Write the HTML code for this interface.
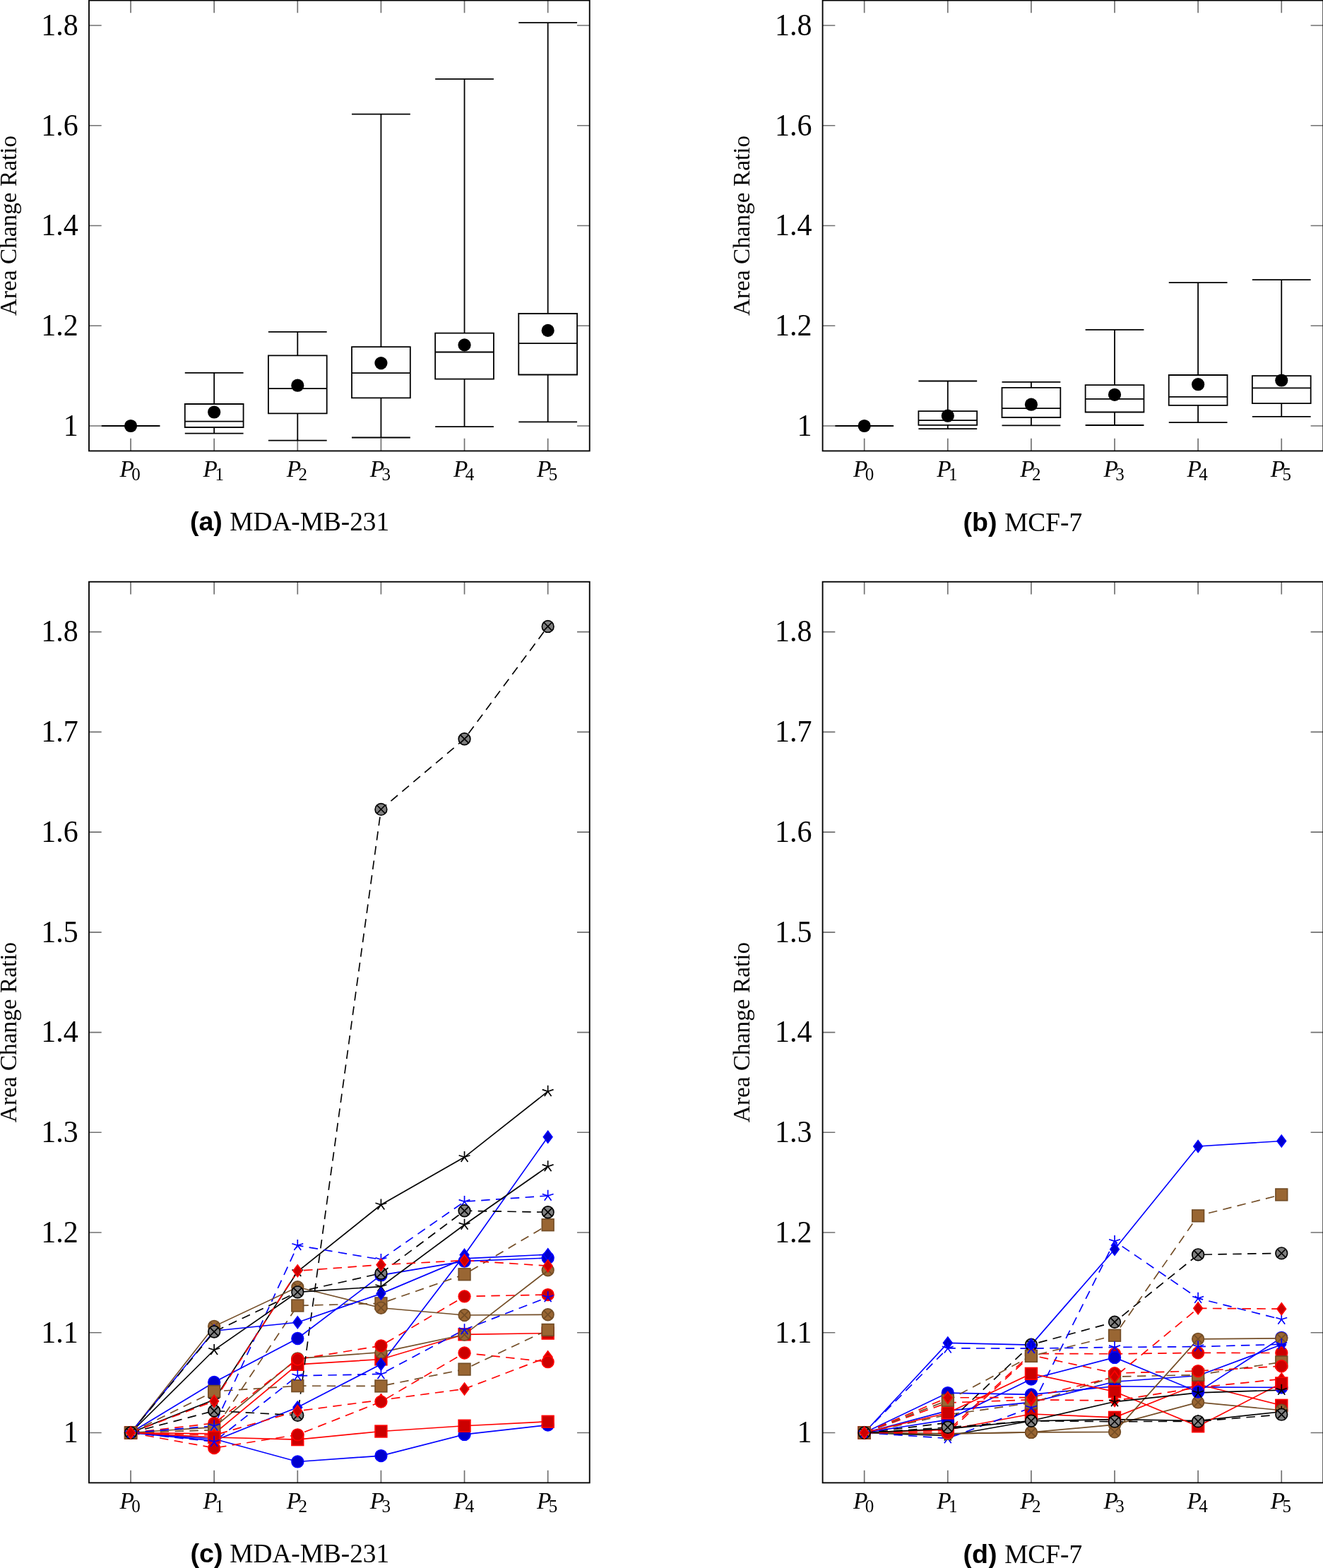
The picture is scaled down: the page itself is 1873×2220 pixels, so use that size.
<!DOCTYPE html>
<html><head><meta charset="utf-8"><title>Area Change Ratio</title>
<style>html,body{margin:0;padding:0;background:#fff;}svg{display:block;}</style>
</head><body>
<svg xmlns="http://www.w3.org/2000/svg" width="1873" height="2220" viewBox="0 0 1873 2220">
<rect width="1873" height="2220" fill="#fff"/>
<path d="M185.06 638.44V620.74M185.06 0.56V18.26M303.18 638.44V620.74M303.18 0.56V18.26M421.3 638.44V620.74M421.3 0.56V18.26M539.42 638.44V620.74M539.42 0.56V18.26M657.54 638.44V620.74M657.54 0.56V18.26M775.66 638.44V620.74M775.66 0.56V18.26M126 603H143.7M834.72 603H817.02M126 461.25H143.7M834.72 461.25H817.02M126 319.5H143.7M834.72 319.5H817.02M126 177.75H143.7M834.72 177.75H817.02M126 36H143.7M834.72 36H817.02" stroke="#707070" stroke-width="1.67" fill="none"/>
<clipPath id="cp00"><rect x="126" y="0.56" width="708.72" height="637.88"/></clipPath>
<g clip-path="url(#cp00)">
<path d="M143.66 603H226.46M261.78 527.8H344.58M303.18 527.8V572M261.78 572H344.58V605H261.78ZM261.78 596.7H344.58M303.18 605V613.7M261.78 613.7H344.58M379.9 469.9H462.7M421.3 469.9V503.3M379.9 503.3H462.7V585.3H379.9ZM379.9 550.2H462.7M421.3 585.3V623.7M379.9 623.7H462.7M498.02 161.7H580.82M539.42 161.7V491.2M498.02 491.2H580.82V563.3H498.02ZM498.02 528.2H580.82M539.42 563.3V619.5M498.02 619.5H580.82M616.14 111.9H698.94M657.54 111.9V471.7M616.14 471.7H698.94V536.6H616.14ZM616.14 498.5H698.94M657.54 536.6V604.2M616.14 604.2H698.94M734.26 32.2H817.06M775.66 32.2V444M734.26 444H817.06V530.5H734.26ZM734.26 486.1H817.06M775.66 530.5V597.3M734.26 597.3H817.06" stroke="#000" stroke-width="1.8" fill="none" stroke-linejoin="miter"/>
<circle cx="185.06" cy="603" r="9.1" fill="#000"/>
<circle cx="303.18" cy="583.5" r="9.1" fill="#000"/>
<circle cx="421.3" cy="545.7" r="9.1" fill="#000"/>
<circle cx="539.42" cy="514.1" r="9.1" fill="#000"/>
<circle cx="657.54" cy="488.4" r="9.1" fill="#000"/>
<circle cx="775.66" cy="467.9" r="9.1" fill="#000"/>
</g>
<rect x="126" y="0.56" width="708.72" height="637.88" fill="none" stroke="#000" stroke-width="1.85"/>
<text transform="translate(110.8 616.9) scale(1 1.04)" text-anchor="end" font-family="'Liberation Serif', 'Times New Roman', serif" font-size="42">1</text>
<text transform="translate(110.8 475.15) scale(1 1.04)" text-anchor="end" font-family="'Liberation Serif', 'Times New Roman', serif" font-size="42">1.2</text>
<text transform="translate(110.8 333.4) scale(1 1.04)" text-anchor="end" font-family="'Liberation Serif', 'Times New Roman', serif" font-size="42">1.4</text>
<text transform="translate(110.8 191.65) scale(1 1.04)" text-anchor="end" font-family="'Liberation Serif', 'Times New Roman', serif" font-size="42">1.6</text>
<text transform="translate(110.8 49.9) scale(1 1.04)" text-anchor="end" font-family="'Liberation Serif', 'Times New Roman', serif" font-size="42">1.8</text>
<text x="169.46" y="674.84" font-family="'Liberation Serif', 'Times New Roman', serif" font-size="33.4" font-style="italic">P</text>
<text x="186.26" y="679.94" font-family="'Liberation Serif', 'Times New Roman', serif" font-size="25">0</text>
<text x="287.58" y="674.84" font-family="'Liberation Serif', 'Times New Roman', serif" font-size="33.4" font-style="italic">P</text>
<text x="304.38" y="679.94" font-family="'Liberation Serif', 'Times New Roman', serif" font-size="25">1</text>
<text x="405.7" y="674.84" font-family="'Liberation Serif', 'Times New Roman', serif" font-size="33.4" font-style="italic">P</text>
<text x="422.5" y="679.94" font-family="'Liberation Serif', 'Times New Roman', serif" font-size="25">2</text>
<text x="523.82" y="674.84" font-family="'Liberation Serif', 'Times New Roman', serif" font-size="33.4" font-style="italic">P</text>
<text x="540.62" y="679.94" font-family="'Liberation Serif', 'Times New Roman', serif" font-size="25">3</text>
<text x="641.94" y="674.84" font-family="'Liberation Serif', 'Times New Roman', serif" font-size="33.4" font-style="italic">P</text>
<text x="658.74" y="679.94" font-family="'Liberation Serif', 'Times New Roman', serif" font-size="25">4</text>
<text x="760.06" y="674.84" font-family="'Liberation Serif', 'Times New Roman', serif" font-size="33.4" font-style="italic">P</text>
<text x="776.86" y="679.94" font-family="'Liberation Serif', 'Times New Roman', serif" font-size="25">5</text>
<text transform="translate(22.7 319.5) rotate(-90)" text-anchor="middle" font-family="'Liberation Serif', 'Times New Roman', serif" font-size="33.3">Area Change Ratio</text>
<path d="M1223.66 638.44V620.74M1223.66 0.56V18.26M1341.78 638.44V620.74M1341.78 0.56V18.26M1459.9 638.44V620.74M1459.9 0.56V18.26M1578.02 638.44V620.74M1578.02 0.56V18.26M1696.14 638.44V620.74M1696.14 0.56V18.26M1814.26 638.44V620.74M1814.26 0.56V18.26M1164.6 603H1182.3M1873.32 603H1855.62M1164.6 461.25H1182.3M1873.32 461.25H1855.62M1164.6 319.5H1182.3M1873.32 319.5H1855.62M1164.6 177.75H1182.3M1873.32 177.75H1855.62M1164.6 36H1182.3M1873.32 36H1855.62" stroke="#707070" stroke-width="1.67" fill="none"/>
<clipPath id="cp10"><rect x="1164.6" y="0.56" width="708.72" height="637.88"/></clipPath>
<g clip-path="url(#cp10)">
<path d="M1182.26 603H1265.06M1300.38 539.5H1383.18M1341.78 539.5V582.2M1300.38 582.2H1383.18V601.9H1300.38ZM1300.38 595.1H1383.18M1341.78 601.9V607.1M1300.38 607.1H1383.18M1418.5 540.8H1501.3M1459.9 540.8V548.8M1418.5 548.8H1501.3V591H1418.5ZM1418.5 578.1H1501.3M1459.9 591V602.3M1418.5 602.3H1501.3M1536.62 466.8H1619.42M1578.02 466.8V545.2M1536.62 545.2H1619.42V583.5H1536.62ZM1536.62 564.8H1619.42M1578.02 583.5V602M1536.62 602H1619.42M1654.74 400.1H1737.54M1696.14 400.1V531M1654.74 531H1737.54V573.9H1654.74ZM1654.74 561.9H1737.54M1696.14 573.9V598.1M1654.74 598.1H1737.54M1772.86 396.2H1855.66M1814.26 396.2V532.1M1772.86 532.1H1855.66V571.2H1772.86ZM1772.86 549.4H1855.66M1814.26 571.2V589.9M1772.86 589.9H1855.66" stroke="#000" stroke-width="1.8" fill="none" stroke-linejoin="miter"/>
<circle cx="1223.66" cy="603" r="9.1" fill="#000"/>
<circle cx="1341.78" cy="588.7" r="9.1" fill="#000"/>
<circle cx="1459.9" cy="572.7" r="9.1" fill="#000"/>
<circle cx="1578.02" cy="558.8" r="9.1" fill="#000"/>
<circle cx="1696.14" cy="544.2" r="9.1" fill="#000"/>
<circle cx="1814.26" cy="538.5" r="9.1" fill="#000"/>
</g>
<rect x="1164.6" y="0.56" width="708.72" height="637.88" fill="none" stroke="#000" stroke-width="1.85"/>
<text transform="translate(1149.4 616.9) scale(1 1.04)" text-anchor="end" font-family="'Liberation Serif', 'Times New Roman', serif" font-size="42">1</text>
<text transform="translate(1149.4 475.15) scale(1 1.04)" text-anchor="end" font-family="'Liberation Serif', 'Times New Roman', serif" font-size="42">1.2</text>
<text transform="translate(1149.4 333.4) scale(1 1.04)" text-anchor="end" font-family="'Liberation Serif', 'Times New Roman', serif" font-size="42">1.4</text>
<text transform="translate(1149.4 191.65) scale(1 1.04)" text-anchor="end" font-family="'Liberation Serif', 'Times New Roman', serif" font-size="42">1.6</text>
<text transform="translate(1149.4 49.9) scale(1 1.04)" text-anchor="end" font-family="'Liberation Serif', 'Times New Roman', serif" font-size="42">1.8</text>
<text x="1208.06" y="674.84" font-family="'Liberation Serif', 'Times New Roman', serif" font-size="33.4" font-style="italic">P</text>
<text x="1224.86" y="679.94" font-family="'Liberation Serif', 'Times New Roman', serif" font-size="25">0</text>
<text x="1326.18" y="674.84" font-family="'Liberation Serif', 'Times New Roman', serif" font-size="33.4" font-style="italic">P</text>
<text x="1342.98" y="679.94" font-family="'Liberation Serif', 'Times New Roman', serif" font-size="25">1</text>
<text x="1444.3" y="674.84" font-family="'Liberation Serif', 'Times New Roman', serif" font-size="33.4" font-style="italic">P</text>
<text x="1461.1" y="679.94" font-family="'Liberation Serif', 'Times New Roman', serif" font-size="25">2</text>
<text x="1562.42" y="674.84" font-family="'Liberation Serif', 'Times New Roman', serif" font-size="33.4" font-style="italic">P</text>
<text x="1579.22" y="679.94" font-family="'Liberation Serif', 'Times New Roman', serif" font-size="25">3</text>
<text x="1680.54" y="674.84" font-family="'Liberation Serif', 'Times New Roman', serif" font-size="33.4" font-style="italic">P</text>
<text x="1697.34" y="679.94" font-family="'Liberation Serif', 'Times New Roman', serif" font-size="25">4</text>
<text x="1798.66" y="674.84" font-family="'Liberation Serif', 'Times New Roman', serif" font-size="33.4" font-style="italic">P</text>
<text x="1815.46" y="679.94" font-family="'Liberation Serif', 'Times New Roman', serif" font-size="25">5</text>
<text transform="translate(1061.3 319.5) rotate(-90)" text-anchor="middle" font-family="'Liberation Serif', 'Times New Roman', serif" font-size="33.3">Area Change Ratio</text>
<path d="M185.06 2099.37V2081.67M185.06 823.71V841.41M303.18 2099.37V2081.67M303.18 823.71V841.41M421.3 2099.37V2081.67M421.3 823.71V841.41M539.42 2099.37V2081.67M539.42 823.71V841.41M657.54 2099.37V2081.67M657.54 823.71V841.41M775.66 2099.37V2081.67M775.66 823.71V841.41M126 2028.5H143.7M834.72 2028.5H817.02M126 1886.76H143.7M834.72 1886.76H817.02M126 1745.02H143.7M834.72 1745.02H817.02M126 1603.28H143.7M834.72 1603.28H817.02M126 1461.54H143.7M834.72 1461.54H817.02M126 1319.8H143.7M834.72 1319.8H817.02M126 1178.06H143.7M834.72 1178.06H817.02M126 1036.32H143.7M834.72 1036.32H817.02M126 894.58H143.7M834.72 894.58H817.02" stroke="#707070" stroke-width="1.67" fill="none"/>
<clipPath id="cp01"><rect x="114" y="823.71" width="732.72" height="1275.66"/></clipPath>
<g clip-path="url(#cp01)">
<path d="M185.06 2028.5L303.18 2037.29L421.3 2069.46L539.42 2061.1L657.54 2030.91L775.66 2017.59" fill="none" stroke="#0000ff" stroke-width="1.67"/>
<path d="M185.06 2028.5L303.18 2029.92L421.3 1931.83L539.42 1924.46L657.54 1889.31L775.66 1887.61" fill="none" stroke="#ff0000" stroke-width="1.67"/>
<path d="M185.06 2028.5L303.18 2020.56L421.3 1923.33L539.42 1914.68L657.54 1889.59L775.66 1798.31" fill="none" stroke="#734d26" stroke-width="1.67"/>
<path d="M185.06 2028.5L303.18 1981.73L421.3 1800.3L539.42 1705.76L657.54 1638.29L775.66 1545.17" fill="none" stroke="#000000" stroke-width="1.67"/>
<path d="M185.06 2028.5L303.18 2039.84L421.3 1992.5L539.42 1931.55L657.54 1776.77L775.66 1609.66" fill="none" stroke="#0000ff" stroke-width="1.67"/>
<path d="M185.06 2028.5L303.18 2015.03L421.3 1924.46L539.42 1905.33L657.54 1835.45L775.66 1833.04" fill="none" stroke="#ff0000" stroke-width="1.67" stroke-dasharray="12.5 8.33"/>
<path d="M185.06 2028.5L303.18 2024.67L421.3 1848.49L539.42 1845.37L657.54 1804.27L775.66 1734.25" fill="none" stroke="#734d26" stroke-width="1.67" stroke-dasharray="12.5 8.33"/>
<path d="M185.06 2028.5L303.18 1997.46L421.3 2003.84L539.42 1145.89L657.54 1046.24L775.66 886.93" fill="none" stroke="#000000" stroke-width="1.67" stroke-dasharray="12.5 8.33"/>
<path d="M185.06 2028.5L303.18 2018.86L421.3 1763.3L539.42 1783.29L657.54 1701.22L775.66 1693" fill="none" stroke="#0000ff" stroke-width="1.67" stroke-dasharray="12.5 8.33"/>
<path d="M185.06 2028.5L303.18 2032.04L421.3 1997.74L539.42 1982.15L657.54 1966.42L775.66 1921.34" fill="none" stroke="#ff0000" stroke-width="1.67" stroke-dasharray="12.5 8.33"/>
<path d="M185.06 2028.5L303.18 1956.92L421.3 1894.98L539.42 1805.4L657.54 1785.7L775.66 1781.02" fill="none" stroke="#0000ff" stroke-width="1.67"/>
<path d="M185.06 2028.5L303.18 2035.02L421.3 2038.14L539.42 2026.52L657.54 2018.72L775.66 2012.77" fill="none" stroke="#ff0000" stroke-width="1.67"/>
<path d="M185.06 2028.5L303.18 1877.83L421.3 1822.27L539.42 1851.75L657.54 1861.96L775.66 1861.25" fill="none" stroke="#734d26" stroke-width="1.67"/>
<path d="M185.06 2028.5L303.18 1911.28L421.3 1829.36L539.42 1821.56L657.54 1733.96L775.66 1651.47" fill="none" stroke="#000000" stroke-width="1.67"/>
<path d="M185.06 2028.5L303.18 1884.21L421.3 1872.3L539.42 1831.62L657.54 1781.87L775.66 1776.2" fill="none" stroke="#0000ff" stroke-width="1.67"/>
<path d="M185.06 2028.5L303.18 2050.04L421.3 2031.33L539.42 1984.56L657.54 1915.53L775.66 1928.15" fill="none" stroke="#ff0000" stroke-width="1.67" stroke-dasharray="12.5 8.33"/>
<path d="M185.06 2028.5L303.18 1969.96L421.3 1962.17L539.42 1962.45L657.54 1938.64L775.66 1882.93" fill="none" stroke="#734d26" stroke-width="1.67" stroke-dasharray="12.5 8.33"/>
<path d="M185.06 2028.5L303.18 1885.48L421.3 1829.36L539.42 1802.71L657.54 1714.26L775.66 1716.25" fill="none" stroke="#000000" stroke-width="1.67" stroke-dasharray="12.5 8.33"/>
<path d="M185.06 2028.5L303.18 2041.26L421.3 1947.85L539.42 1945.44L657.54 1882.51L775.66 1836.58" fill="none" stroke="#0000ff" stroke-width="1.67" stroke-dasharray="12.5 8.33"/>
<path d="M185.06 2028.5L303.18 1983.71L421.3 1799.31L539.42 1790.66L657.54 1784.57L775.66 1792.22" fill="none" stroke="#ff0000" stroke-width="1.67" stroke-dasharray="12.5 8.33"/>
<circle cx="185.06" cy="2028.5" r="8.33" fill="#0000cc" stroke="#0000ff" stroke-width="1.67"/>
<circle cx="303.18" cy="2037.29" r="8.33" fill="#0000cc" stroke="#0000ff" stroke-width="1.67"/>
<circle cx="421.3" cy="2069.46" r="8.33" fill="#0000cc" stroke="#0000ff" stroke-width="1.67"/>
<circle cx="539.42" cy="2061.1" r="8.33" fill="#0000cc" stroke="#0000ff" stroke-width="1.67"/>
<circle cx="657.54" cy="2030.91" r="8.33" fill="#0000cc" stroke="#0000ff" stroke-width="1.67"/>
<circle cx="775.66" cy="2017.59" r="8.33" fill="#0000cc" stroke="#0000ff" stroke-width="1.67"/>
<rect x="176.73" y="2020.17" width="16.67" height="16.67" fill="#cc0000" stroke="#ff0000" stroke-width="1.67"/>
<rect x="294.85" y="2021.58" width="16.67" height="16.67" fill="#cc0000" stroke="#ff0000" stroke-width="1.67"/>
<rect x="412.97" y="1923.5" width="16.67" height="16.67" fill="#cc0000" stroke="#ff0000" stroke-width="1.67"/>
<rect x="531.09" y="1916.13" width="16.67" height="16.67" fill="#cc0000" stroke="#ff0000" stroke-width="1.67"/>
<rect x="649.21" y="1880.98" width="16.67" height="16.67" fill="#cc0000" stroke="#ff0000" stroke-width="1.67"/>
<rect x="767.33" y="1879.28" width="16.67" height="16.67" fill="#cc0000" stroke="#ff0000" stroke-width="1.67"/>
<circle cx="185.06" cy="2028.5" r="8.33" fill="#996633" stroke="#734d26" stroke-width="1.67"/><path d="M179.17 2022.61L190.95 2034.39M179.17 2034.39L190.95 2022.61" stroke="#734d26" stroke-width="1.67"/>
<circle cx="303.18" cy="2020.56" r="8.33" fill="#996633" stroke="#734d26" stroke-width="1.67"/><path d="M297.29 2014.67L309.07 2026.45M297.29 2026.45L309.07 2014.67" stroke="#734d26" stroke-width="1.67"/>
<circle cx="421.3" cy="1923.33" r="8.33" fill="#996633" stroke="#734d26" stroke-width="1.67"/><path d="M415.41 1917.44L427.19 1929.22M415.41 1929.22L427.19 1917.44" stroke="#734d26" stroke-width="1.67"/>
<circle cx="539.42" cy="1914.68" r="8.33" fill="#996633" stroke="#734d26" stroke-width="1.67"/><path d="M533.53 1908.79L545.31 1920.58M533.53 1920.58L545.31 1908.79" stroke="#734d26" stroke-width="1.67"/>
<circle cx="657.54" cy="1889.59" r="8.33" fill="#996633" stroke="#734d26" stroke-width="1.67"/><path d="M651.65 1883.7L663.43 1895.49M651.65 1895.49L663.43 1883.7" stroke="#734d26" stroke-width="1.67"/>
<circle cx="775.66" cy="1798.31" r="8.33" fill="#996633" stroke="#734d26" stroke-width="1.67"/><path d="M769.77 1792.42L781.55 1804.21M769.77 1804.21L781.55 1792.42" stroke="#734d26" stroke-width="1.67"/>
<path d="M185.06 2028.5L185.06 2020.17M185.06 2028.5L177.13 2025.92M185.06 2028.5L180.16 2035.24M185.06 2028.5L189.96 2035.24M185.06 2028.5L192.99 2025.92" stroke="#000000" stroke-width="1.67" fill="none"/>
<path d="M303.18 1981.73L303.18 1973.39M303.18 1981.73L295.25 1979.15M303.18 1981.73L298.28 1988.47M303.18 1981.73L308.08 1988.47M303.18 1981.73L311.11 1979.15" stroke="#000000" stroke-width="1.67" fill="none"/>
<path d="M421.3 1800.3L421.3 1791.97M421.3 1800.3L413.37 1797.72M421.3 1800.3L416.4 1807.04M421.3 1800.3L426.2 1807.04M421.3 1800.3L429.23 1797.72" stroke="#000000" stroke-width="1.67" fill="none"/>
<path d="M539.42 1705.76L539.42 1697.43M539.42 1705.76L531.49 1703.18M539.42 1705.76L534.52 1712.5M539.42 1705.76L544.32 1712.5M539.42 1705.76L547.35 1703.18" stroke="#000000" stroke-width="1.67" fill="none"/>
<path d="M657.54 1638.29L657.54 1629.96M657.54 1638.29L649.61 1635.71M657.54 1638.29L652.64 1645.03M657.54 1638.29L662.44 1645.03M657.54 1638.29L665.47 1635.71" stroke="#000000" stroke-width="1.67" fill="none"/>
<path d="M775.66 1545.17L775.66 1536.83M775.66 1545.17L767.73 1542.59M775.66 1545.17L770.76 1551.91M775.66 1545.17L780.56 1551.91M775.66 1545.17L783.59 1542.59" stroke="#000000" stroke-width="1.67" fill="none"/>
<path d="M185.06 2020.17L191.31 2028.5L185.06 2036.83L178.81 2028.5Z" fill="#0000cc" stroke="#0000ff" stroke-width="1.67"/>
<path d="M303.18 2031.51L309.43 2039.84L303.18 2048.17L296.93 2039.84Z" fill="#0000cc" stroke="#0000ff" stroke-width="1.67"/>
<path d="M421.3 1984.17L427.55 1992.5L421.3 2000.83L415.05 1992.5Z" fill="#0000cc" stroke="#0000ff" stroke-width="1.67"/>
<path d="M539.42 1923.22L545.67 1931.55L539.42 1939.88L533.17 1931.55Z" fill="#0000cc" stroke="#0000ff" stroke-width="1.67"/>
<path d="M657.54 1768.44L663.79 1776.77L657.54 1785.1L651.29 1776.77Z" fill="#0000cc" stroke="#0000ff" stroke-width="1.67"/>
<path d="M775.66 1601.33L781.91 1609.66L775.66 1617.99L769.41 1609.66Z" fill="#0000cc" stroke="#0000ff" stroke-width="1.67"/>
<circle cx="185.06" cy="2028.5" r="8.33" fill="#cc0000" stroke="#ff0000" stroke-width="1.67"/>
<circle cx="303.18" cy="2015.03" r="8.33" fill="#cc0000" stroke="#ff0000" stroke-width="1.67"/>
<circle cx="421.3" cy="1924.46" r="8.33" fill="#cc0000" stroke="#ff0000" stroke-width="1.67"/>
<circle cx="539.42" cy="1905.33" r="8.33" fill="#cc0000" stroke="#ff0000" stroke-width="1.67"/>
<circle cx="657.54" cy="1835.45" r="8.33" fill="#cc0000" stroke="#ff0000" stroke-width="1.67"/>
<circle cx="775.66" cy="1833.04" r="8.33" fill="#cc0000" stroke="#ff0000" stroke-width="1.67"/>
<rect x="176.73" y="2020.17" width="16.67" height="16.67" fill="#996633" stroke="#734d26" stroke-width="1.67"/>
<rect x="294.85" y="2016.34" width="16.67" height="16.67" fill="#996633" stroke="#734d26" stroke-width="1.67"/>
<rect x="412.97" y="1840.16" width="16.67" height="16.67" fill="#996633" stroke="#734d26" stroke-width="1.67"/>
<rect x="531.09" y="1837.04" width="16.67" height="16.67" fill="#996633" stroke="#734d26" stroke-width="1.67"/>
<rect x="649.21" y="1795.93" width="16.67" height="16.67" fill="#996633" stroke="#734d26" stroke-width="1.67"/>
<rect x="767.33" y="1725.91" width="16.67" height="16.67" fill="#996633" stroke="#734d26" stroke-width="1.67"/>
<circle cx="185.06" cy="2028.5" r="8.33" fill="#808080" stroke="#000000" stroke-width="1.67"/><path d="M179.17 2022.61L190.95 2034.39M179.17 2034.39L190.95 2022.61" stroke="#000000" stroke-width="1.67"/>
<circle cx="303.18" cy="1997.46" r="8.33" fill="#808080" stroke="#000000" stroke-width="1.67"/><path d="M297.29 1991.57L309.07 2003.35M297.29 2003.35L309.07 1991.57" stroke="#000000" stroke-width="1.67"/>
<circle cx="421.3" cy="2003.84" r="8.33" fill="#808080" stroke="#000000" stroke-width="1.67"/><path d="M415.41 1997.94L427.19 2009.73M415.41 2009.73L427.19 1997.94" stroke="#000000" stroke-width="1.67"/>
<circle cx="539.42" cy="1145.89" r="8.33" fill="#808080" stroke="#000000" stroke-width="1.67"/><path d="M533.53 1139.99L545.31 1151.78M533.53 1151.78L545.31 1139.99" stroke="#000000" stroke-width="1.67"/>
<circle cx="657.54" cy="1046.24" r="8.33" fill="#808080" stroke="#000000" stroke-width="1.67"/><path d="M651.65 1040.35L663.43 1052.13M651.65 1052.13L663.43 1040.35" stroke="#000000" stroke-width="1.67"/>
<circle cx="775.66" cy="886.93" r="8.33" fill="#808080" stroke="#000000" stroke-width="1.67"/><path d="M769.77 881.03L781.55 892.82M769.77 892.82L781.55 881.03" stroke="#000000" stroke-width="1.67"/>
<path d="M185.06 2028.5L185.06 2020.17M185.06 2028.5L177.13 2025.92M185.06 2028.5L180.16 2035.24M185.06 2028.5L189.96 2035.24M185.06 2028.5L192.99 2025.92" stroke="#0000ff" stroke-width="1.67" fill="none"/>
<path d="M303.18 2018.86L303.18 2010.53M303.18 2018.86L295.25 2016.29M303.18 2018.86L298.28 2025.6M303.18 2018.86L308.08 2025.6M303.18 2018.86L311.11 2016.29" stroke="#0000ff" stroke-width="1.67" fill="none"/>
<path d="M421.3 1763.3L421.3 1754.97M421.3 1763.3L413.37 1760.73M421.3 1763.3L416.4 1770.05M421.3 1763.3L426.2 1770.05M421.3 1763.3L429.23 1760.73" stroke="#0000ff" stroke-width="1.67" fill="none"/>
<path d="M539.42 1783.29L539.42 1774.96M539.42 1783.29L531.49 1780.71M539.42 1783.29L534.52 1790.03M539.42 1783.29L544.32 1790.03M539.42 1783.29L547.35 1780.71" stroke="#0000ff" stroke-width="1.67" fill="none"/>
<path d="M657.54 1701.22L657.54 1692.89M657.54 1701.22L649.61 1698.65M657.54 1701.22L652.64 1707.96M657.54 1701.22L662.44 1707.96M657.54 1701.22L665.47 1698.65" stroke="#0000ff" stroke-width="1.67" fill="none"/>
<path d="M775.66 1693L775.66 1684.67M775.66 1693L767.73 1690.43M775.66 1693L770.76 1699.74M775.66 1693L780.56 1699.74M775.66 1693L783.59 1690.43" stroke="#0000ff" stroke-width="1.67" fill="none"/>
<path d="M185.06 2020.17L191.31 2028.5L185.06 2036.83L178.81 2028.5Z" fill="#cc0000" stroke="#ff0000" stroke-width="1.67"/>
<path d="M303.18 2023.71L309.43 2032.04L303.18 2040.38L296.93 2032.04Z" fill="#cc0000" stroke="#ff0000" stroke-width="1.67"/>
<path d="M421.3 1989.41L427.55 1997.74L421.3 2006.08L415.05 1997.74Z" fill="#cc0000" stroke="#ff0000" stroke-width="1.67"/>
<path d="M539.42 1973.82L545.67 1982.15L539.42 1990.48L533.17 1982.15Z" fill="#cc0000" stroke="#ff0000" stroke-width="1.67"/>
<path d="M657.54 1958.08L663.79 1966.42L657.54 1974.75L651.29 1966.42Z" fill="#cc0000" stroke="#ff0000" stroke-width="1.67"/>
<path d="M775.66 1913.01L781.91 1921.34L775.66 1929.68L769.41 1921.34Z" fill="#cc0000" stroke="#ff0000" stroke-width="1.67"/>
<circle cx="185.06" cy="2028.5" r="8.33" fill="#0000cc" stroke="#0000ff" stroke-width="1.67"/>
<circle cx="303.18" cy="1956.92" r="8.33" fill="#0000cc" stroke="#0000ff" stroke-width="1.67"/>
<circle cx="421.3" cy="1894.98" r="8.33" fill="#0000cc" stroke="#0000ff" stroke-width="1.67"/>
<circle cx="539.42" cy="1805.4" r="8.33" fill="#0000cc" stroke="#0000ff" stroke-width="1.67"/>
<circle cx="657.54" cy="1785.7" r="8.33" fill="#0000cc" stroke="#0000ff" stroke-width="1.67"/>
<circle cx="775.66" cy="1781.02" r="8.33" fill="#0000cc" stroke="#0000ff" stroke-width="1.67"/>
<rect x="176.73" y="2020.17" width="16.67" height="16.67" fill="#cc0000" stroke="#ff0000" stroke-width="1.67"/>
<rect x="294.85" y="2026.69" width="16.67" height="16.67" fill="#cc0000" stroke="#ff0000" stroke-width="1.67"/>
<rect x="412.97" y="2029.81" width="16.67" height="16.67" fill="#cc0000" stroke="#ff0000" stroke-width="1.67"/>
<rect x="531.09" y="2018.18" width="16.67" height="16.67" fill="#cc0000" stroke="#ff0000" stroke-width="1.67"/>
<rect x="649.21" y="2010.39" width="16.67" height="16.67" fill="#cc0000" stroke="#ff0000" stroke-width="1.67"/>
<rect x="767.33" y="2004.43" width="16.67" height="16.67" fill="#cc0000" stroke="#ff0000" stroke-width="1.67"/>
<circle cx="185.06" cy="2028.5" r="8.33" fill="#996633" stroke="#734d26" stroke-width="1.67"/><path d="M179.17 2022.61L190.95 2034.39M179.17 2034.39L190.95 2022.61" stroke="#734d26" stroke-width="1.67"/>
<circle cx="303.18" cy="1877.83" r="8.33" fill="#996633" stroke="#734d26" stroke-width="1.67"/><path d="M297.29 1871.94L309.07 1883.72M297.29 1883.72L309.07 1871.94" stroke="#734d26" stroke-width="1.67"/>
<circle cx="421.3" cy="1822.27" r="8.33" fill="#996633" stroke="#734d26" stroke-width="1.67"/><path d="M415.41 1816.38L427.19 1828.16M415.41 1828.16L427.19 1816.38" stroke="#734d26" stroke-width="1.67"/>
<circle cx="539.42" cy="1851.75" r="8.33" fill="#996633" stroke="#734d26" stroke-width="1.67"/><path d="M533.53 1845.86L545.31 1857.64M533.53 1857.64L545.31 1845.86" stroke="#734d26" stroke-width="1.67"/>
<circle cx="657.54" cy="1861.96" r="8.33" fill="#996633" stroke="#734d26" stroke-width="1.67"/><path d="M651.65 1856.06L663.43 1867.85M651.65 1867.85L663.43 1856.06" stroke="#734d26" stroke-width="1.67"/>
<circle cx="775.66" cy="1861.25" r="8.33" fill="#996633" stroke="#734d26" stroke-width="1.67"/><path d="M769.77 1855.35L781.55 1867.14M769.77 1867.14L781.55 1855.35" stroke="#734d26" stroke-width="1.67"/>
<path d="M185.06 2028.5L185.06 2020.17M185.06 2028.5L177.13 2025.92M185.06 2028.5L180.16 2035.24M185.06 2028.5L189.96 2035.24M185.06 2028.5L192.99 2025.92" stroke="#000000" stroke-width="1.67" fill="none"/>
<path d="M303.18 1911.28L303.18 1902.95M303.18 1911.28L295.25 1908.71M303.18 1911.28L298.28 1918.02M303.18 1911.28L308.08 1918.02M303.18 1911.28L311.11 1908.71" stroke="#000000" stroke-width="1.67" fill="none"/>
<path d="M421.3 1829.36L421.3 1821.02M421.3 1829.36L413.37 1826.78M421.3 1829.36L416.4 1836.1M421.3 1829.36L426.2 1836.1M421.3 1829.36L429.23 1826.78" stroke="#000000" stroke-width="1.67" fill="none"/>
<path d="M539.42 1821.56L539.42 1813.23M539.42 1821.56L531.49 1818.98M539.42 1821.56L534.52 1828.3M539.42 1821.56L544.32 1828.3M539.42 1821.56L547.35 1818.98" stroke="#000000" stroke-width="1.67" fill="none"/>
<path d="M657.54 1733.96L657.54 1725.63M657.54 1733.96L649.61 1731.39M657.54 1733.96L652.64 1740.71M657.54 1733.96L662.44 1740.71M657.54 1733.96L665.47 1731.39" stroke="#000000" stroke-width="1.67" fill="none"/>
<path d="M775.66 1651.47L775.66 1643.14M775.66 1651.47L767.73 1648.9M775.66 1651.47L770.76 1658.21M775.66 1651.47L780.56 1658.21M775.66 1651.47L783.59 1648.9" stroke="#000000" stroke-width="1.67" fill="none"/>
<path d="M185.06 2020.17L191.31 2028.5L185.06 2036.83L178.81 2028.5Z" fill="#0000cc" stroke="#0000ff" stroke-width="1.67"/>
<path d="M303.18 1875.88L309.43 1884.21L303.18 1892.54L296.93 1884.21Z" fill="#0000cc" stroke="#0000ff" stroke-width="1.67"/>
<path d="M421.3 1863.97L427.55 1872.3L421.3 1880.64L415.05 1872.3Z" fill="#0000cc" stroke="#0000ff" stroke-width="1.67"/>
<path d="M539.42 1823.29L545.67 1831.62L539.42 1839.96L533.17 1831.62Z" fill="#0000cc" stroke="#0000ff" stroke-width="1.67"/>
<path d="M657.54 1773.54L663.79 1781.87L657.54 1790.21L651.29 1781.87Z" fill="#0000cc" stroke="#0000ff" stroke-width="1.67"/>
<path d="M775.66 1767.87L781.91 1776.2L775.66 1784.54L769.41 1776.2Z" fill="#0000cc" stroke="#0000ff" stroke-width="1.67"/>
<circle cx="185.06" cy="2028.5" r="8.33" fill="#cc0000" stroke="#ff0000" stroke-width="1.67"/>
<circle cx="303.18" cy="2050.04" r="8.33" fill="#cc0000" stroke="#ff0000" stroke-width="1.67"/>
<circle cx="421.3" cy="2031.33" r="8.33" fill="#cc0000" stroke="#ff0000" stroke-width="1.67"/>
<circle cx="539.42" cy="1984.56" r="8.33" fill="#cc0000" stroke="#ff0000" stroke-width="1.67"/>
<circle cx="657.54" cy="1915.53" r="8.33" fill="#cc0000" stroke="#ff0000" stroke-width="1.67"/>
<circle cx="775.66" cy="1928.15" r="8.33" fill="#cc0000" stroke="#ff0000" stroke-width="1.67"/>
<rect x="176.73" y="2020.17" width="16.67" height="16.67" fill="#996633" stroke="#734d26" stroke-width="1.67"/>
<rect x="294.85" y="1961.63" width="16.67" height="16.67" fill="#996633" stroke="#734d26" stroke-width="1.67"/>
<rect x="412.97" y="1953.83" width="16.67" height="16.67" fill="#996633" stroke="#734d26" stroke-width="1.67"/>
<rect x="531.09" y="1954.12" width="16.67" height="16.67" fill="#996633" stroke="#734d26" stroke-width="1.67"/>
<rect x="649.21" y="1930.3" width="16.67" height="16.67" fill="#996633" stroke="#734d26" stroke-width="1.67"/>
<rect x="767.33" y="1874.6" width="16.67" height="16.67" fill="#996633" stroke="#734d26" stroke-width="1.67"/>
<circle cx="185.06" cy="2028.5" r="8.33" fill="#808080" stroke="#000000" stroke-width="1.67"/><path d="M179.17 2022.61L190.95 2034.39M179.17 2034.39L190.95 2022.61" stroke="#000000" stroke-width="1.67"/>
<circle cx="303.18" cy="1885.48" r="8.33" fill="#808080" stroke="#000000" stroke-width="1.67"/><path d="M297.29 1879.59L309.07 1891.38M297.29 1891.38L309.07 1879.59" stroke="#000000" stroke-width="1.67"/>
<circle cx="421.3" cy="1829.36" r="8.33" fill="#808080" stroke="#000000" stroke-width="1.67"/><path d="M415.41 1823.46L427.19 1835.25M415.41 1835.25L427.19 1823.46" stroke="#000000" stroke-width="1.67"/>
<circle cx="539.42" cy="1802.71" r="8.33" fill="#808080" stroke="#000000" stroke-width="1.67"/><path d="M533.53 1796.82L545.31 1808.6M533.53 1808.6L545.31 1796.82" stroke="#000000" stroke-width="1.67"/>
<circle cx="657.54" cy="1714.26" r="8.33" fill="#808080" stroke="#000000" stroke-width="1.67"/><path d="M651.65 1708.37L663.43 1720.15M651.65 1720.15L663.43 1708.37" stroke="#000000" stroke-width="1.67"/>
<circle cx="775.66" cy="1716.25" r="8.33" fill="#808080" stroke="#000000" stroke-width="1.67"/><path d="M769.77 1710.35L781.55 1722.14M769.77 1722.14L781.55 1710.35" stroke="#000000" stroke-width="1.67"/>
<path d="M185.06 2028.5L185.06 2020.17M185.06 2028.5L177.13 2025.92M185.06 2028.5L180.16 2035.24M185.06 2028.5L189.96 2035.24M185.06 2028.5L192.99 2025.92" stroke="#0000ff" stroke-width="1.67" fill="none"/>
<path d="M303.18 2041.26L303.18 2032.92M303.18 2041.26L295.25 2038.68M303.18 2041.26L298.28 2048M303.18 2041.26L308.08 2048M303.18 2041.26L311.11 2038.68" stroke="#0000ff" stroke-width="1.67" fill="none"/>
<path d="M421.3 1947.85L421.3 1939.52M421.3 1947.85L413.37 1945.27M421.3 1947.85L416.4 1954.59M421.3 1947.85L426.2 1954.59M421.3 1947.85L429.23 1945.27" stroke="#0000ff" stroke-width="1.67" fill="none"/>
<path d="M539.42 1945.44L539.42 1937.11M539.42 1945.44L531.49 1942.87M539.42 1945.44L534.52 1952.18M539.42 1945.44L544.32 1952.18M539.42 1945.44L547.35 1942.87" stroke="#0000ff" stroke-width="1.67" fill="none"/>
<path d="M657.54 1882.51L657.54 1874.17M657.54 1882.51L649.61 1879.93M657.54 1882.51L652.64 1889.25M657.54 1882.51L662.44 1889.25M657.54 1882.51L665.47 1879.93" stroke="#0000ff" stroke-width="1.67" fill="none"/>
<path d="M775.66 1836.58L775.66 1828.25M775.66 1836.58L767.73 1834.01M775.66 1836.58L770.76 1843.33M775.66 1836.58L780.56 1843.33M775.66 1836.58L783.59 1834.01" stroke="#0000ff" stroke-width="1.67" fill="none"/>
<path d="M185.06 2020.17L191.31 2028.5L185.06 2036.83L178.81 2028.5Z" fill="#cc0000" stroke="#ff0000" stroke-width="1.67"/>
<path d="M303.18 1975.38L309.43 1983.71L303.18 1992.04L296.93 1983.71Z" fill="#cc0000" stroke="#ff0000" stroke-width="1.67"/>
<path d="M421.3 1790.97L427.55 1799.31L421.3 1807.64L415.05 1799.31Z" fill="#cc0000" stroke="#ff0000" stroke-width="1.67"/>
<path d="M539.42 1782.33L545.67 1790.66L539.42 1798.99L533.17 1790.66Z" fill="#cc0000" stroke="#ff0000" stroke-width="1.67"/>
<path d="M657.54 1776.23L663.79 1784.57L657.54 1792.9L651.29 1784.57Z" fill="#cc0000" stroke="#ff0000" stroke-width="1.67"/>
<path d="M775.66 1783.89L781.91 1792.22L775.66 1800.55L769.41 1792.22Z" fill="#cc0000" stroke="#ff0000" stroke-width="1.67"/>
</g>
<rect x="126" y="823.71" width="708.72" height="1275.66" fill="none" stroke="#000" stroke-width="1.85"/>
<text transform="translate(110.8 2042.4) scale(1 1.04)" text-anchor="end" font-family="'Liberation Serif', 'Times New Roman', serif" font-size="42">1</text>
<text transform="translate(110.8 1900.66) scale(1 1.04)" text-anchor="end" font-family="'Liberation Serif', 'Times New Roman', serif" font-size="42">1.1</text>
<text transform="translate(110.8 1758.92) scale(1 1.04)" text-anchor="end" font-family="'Liberation Serif', 'Times New Roman', serif" font-size="42">1.2</text>
<text transform="translate(110.8 1617.18) scale(1 1.04)" text-anchor="end" font-family="'Liberation Serif', 'Times New Roman', serif" font-size="42">1.3</text>
<text transform="translate(110.8 1475.44) scale(1 1.04)" text-anchor="end" font-family="'Liberation Serif', 'Times New Roman', serif" font-size="42">1.4</text>
<text transform="translate(110.8 1333.7) scale(1 1.04)" text-anchor="end" font-family="'Liberation Serif', 'Times New Roman', serif" font-size="42">1.5</text>
<text transform="translate(110.8 1191.96) scale(1 1.04)" text-anchor="end" font-family="'Liberation Serif', 'Times New Roman', serif" font-size="42">1.6</text>
<text transform="translate(110.8 1050.22) scale(1 1.04)" text-anchor="end" font-family="'Liberation Serif', 'Times New Roman', serif" font-size="42">1.7</text>
<text transform="translate(110.8 908.48) scale(1 1.04)" text-anchor="end" font-family="'Liberation Serif', 'Times New Roman', serif" font-size="42">1.8</text>
<text x="169.46" y="2135.77" font-family="'Liberation Serif', 'Times New Roman', serif" font-size="33.4" font-style="italic">P</text>
<text x="186.26" y="2140.87" font-family="'Liberation Serif', 'Times New Roman', serif" font-size="25">0</text>
<text x="287.58" y="2135.77" font-family="'Liberation Serif', 'Times New Roman', serif" font-size="33.4" font-style="italic">P</text>
<text x="304.38" y="2140.87" font-family="'Liberation Serif', 'Times New Roman', serif" font-size="25">1</text>
<text x="405.7" y="2135.77" font-family="'Liberation Serif', 'Times New Roman', serif" font-size="33.4" font-style="italic">P</text>
<text x="422.5" y="2140.87" font-family="'Liberation Serif', 'Times New Roman', serif" font-size="25">2</text>
<text x="523.82" y="2135.77" font-family="'Liberation Serif', 'Times New Roman', serif" font-size="33.4" font-style="italic">P</text>
<text x="540.62" y="2140.87" font-family="'Liberation Serif', 'Times New Roman', serif" font-size="25">3</text>
<text x="641.94" y="2135.77" font-family="'Liberation Serif', 'Times New Roman', serif" font-size="33.4" font-style="italic">P</text>
<text x="658.74" y="2140.87" font-family="'Liberation Serif', 'Times New Roman', serif" font-size="25">4</text>
<text x="760.06" y="2135.77" font-family="'Liberation Serif', 'Times New Roman', serif" font-size="33.4" font-style="italic">P</text>
<text x="776.86" y="2140.87" font-family="'Liberation Serif', 'Times New Roman', serif" font-size="25">5</text>
<text transform="translate(22.7 1461.54) rotate(-90)" text-anchor="middle" font-family="'Liberation Serif', 'Times New Roman', serif" font-size="33.3">Area Change Ratio</text>
<path d="M1223.66 2099.37V2081.67M1223.66 823.71V841.41M1341.78 2099.37V2081.67M1341.78 823.71V841.41M1459.9 2099.37V2081.67M1459.9 823.71V841.41M1578.02 2099.37V2081.67M1578.02 823.71V841.41M1696.14 2099.37V2081.67M1696.14 823.71V841.41M1814.26 2099.37V2081.67M1814.26 823.71V841.41M1164.6 2028.5H1182.3M1873.32 2028.5H1855.62M1164.6 1886.76H1182.3M1873.32 1886.76H1855.62M1164.6 1745.02H1182.3M1873.32 1745.02H1855.62M1164.6 1603.28H1182.3M1873.32 1603.28H1855.62M1164.6 1461.54H1182.3M1873.32 1461.54H1855.62M1164.6 1319.8H1182.3M1873.32 1319.8H1855.62M1164.6 1178.06H1182.3M1873.32 1178.06H1855.62M1164.6 1036.32H1182.3M1873.32 1036.32H1855.62M1164.6 894.58H1182.3M1873.32 894.58H1855.62" stroke="#707070" stroke-width="1.67" fill="none"/>
<clipPath id="cp11"><rect x="1152.6" y="823.71" width="732.72" height="1275.66"/></clipPath>
<g clip-path="url(#cp11)">
<path d="M1223.66 2028.5L1341.78 1972.09L1459.9 1974.36L1578.02 1962.73L1696.14 1963.87L1814.26 1964.43" fill="none" stroke="#0000ff" stroke-width="1.67"/>
<path d="M1223.66 2028.5L1341.78 2024.25L1459.9 2001.99L1578.02 2006.81L1696.14 1959.76L1814.26 1989.8" fill="none" stroke="#ff0000" stroke-width="1.67"/>
<path d="M1223.66 2028.5L1341.78 2029.92L1459.9 2027.93L1578.02 2017.16L1696.14 1985.41L1814.26 1996.75" fill="none" stroke="#734d26" stroke-width="1.67"/>
<path d="M1223.66 2028.5L1341.78 2032.75L1459.9 2011.77L1578.02 2009.65L1696.14 2011.49L1814.26 1998.73" fill="none" stroke="#000000" stroke-width="1.67"/>
<path d="M1223.66 2028.5L1341.78 1997.32L1459.9 1985.41L1578.02 1956.21L1696.14 1947.71L1814.26 1903.77" fill="none" stroke="#0000ff" stroke-width="1.67"/>
<path d="M1223.66 2028.5L1341.78 2025.67L1459.9 1916.53L1578.02 1916.81L1696.14 1915.39L1814.26 1915.53" fill="none" stroke="#ff0000" stroke-width="1.67" stroke-dasharray="12.5 8.33"/>
<path d="M1223.66 2028.5L1341.78 2002.99L1459.9 1986.26L1578.02 1949.13L1696.14 1946.57L1814.26 1928.43" fill="none" stroke="#734d26" stroke-width="1.67" stroke-dasharray="12.5 8.33"/>
<path d="M1223.66 2028.5L1341.78 2014.33L1459.9 1903.77L1578.02 1871.74L1696.14 1776.34L1814.26 1774.36" fill="none" stroke="#000000" stroke-width="1.67" stroke-dasharray="12.5 8.33"/>
<path d="M1223.66 2028.5L1341.78 2036.44L1459.9 1993.07L1578.02 1757.35L1696.14 1838.14L1814.26 1868.05" fill="none" stroke="#0000ff" stroke-width="1.67" stroke-dasharray="12.5 8.33"/>
<path d="M1223.66 2028.5L1341.78 1985.98L1459.9 1981.73L1578.02 1983.14L1696.14 1964.43L1814.26 1952.39" fill="none" stroke="#ff0000" stroke-width="1.67" stroke-dasharray="12.5 8.33"/>
<path d="M1223.66 2028.5L1341.78 2010.07L1459.9 1952.53L1578.02 1921.91L1696.14 1970.67L1814.26 1893.85" fill="none" stroke="#0000ff" stroke-width="1.67"/>
<path d="M1223.66 2028.5L1341.78 2000.44L1459.9 1944.87L1578.02 1970.24L1696.14 2019.29L1814.26 1958.48" fill="none" stroke="#ff0000" stroke-width="1.67"/>
<path d="M1223.66 2028.5L1341.78 2029.92L1459.9 2027.93L1578.02 2027.37L1696.14 1895.83L1814.26 1894.84" fill="none" stroke="#734d26" stroke-width="1.67"/>
<path d="M1223.66 2028.5L1341.78 2022.83L1459.9 2011.49L1578.02 1984.56L1696.14 1971.8L1814.26 1968.12" fill="none" stroke="#000000" stroke-width="1.67"/>
<path d="M1223.66 2028.5L1341.78 1901.36L1459.9 1904.05L1578.02 1768.83L1696.14 1622.98L1814.26 1615.47" fill="none" stroke="#0000ff" stroke-width="1.67"/>
<path d="M1223.66 2028.5L1341.78 2028.64L1459.9 1918.65L1578.02 1944.16L1696.14 1941.05L1814.26 1934.24" fill="none" stroke="#ff0000" stroke-width="1.67" stroke-dasharray="12.5 8.33"/>
<path d="M1223.66 2028.5L1341.78 1982.72L1459.9 1919.93L1578.02 1890.73L1696.14 1721.35L1814.26 1691.44" fill="none" stroke="#734d26" stroke-width="1.67" stroke-dasharray="12.5 8.33"/>
<path d="M1223.66 2028.5L1341.78 2020.85L1459.9 2011.77L1578.02 2012.63L1696.14 2012.34L1814.26 2002.7" fill="none" stroke="#000000" stroke-width="1.67" stroke-dasharray="12.5 8.33"/>
<path d="M1223.66 2028.5L1341.78 1908.87L1459.9 1909.15L1578.02 1907.45L1696.14 1906.6L1814.26 1903.34" fill="none" stroke="#0000ff" stroke-width="1.67" stroke-dasharray="12.5 8.33"/>
<path d="M1223.66 2028.5L1341.78 1978.75L1459.9 1978.61L1578.02 1949.41L1696.14 1852.32L1814.26 1853.17" fill="none" stroke="#ff0000" stroke-width="1.67" stroke-dasharray="12.5 8.33"/>
<circle cx="1223.66" cy="2028.5" r="8.33" fill="#0000cc" stroke="#0000ff" stroke-width="1.67"/>
<circle cx="1341.78" cy="1972.09" r="8.33" fill="#0000cc" stroke="#0000ff" stroke-width="1.67"/>
<circle cx="1459.9" cy="1974.36" r="8.33" fill="#0000cc" stroke="#0000ff" stroke-width="1.67"/>
<circle cx="1578.02" cy="1962.73" r="8.33" fill="#0000cc" stroke="#0000ff" stroke-width="1.67"/>
<circle cx="1696.14" cy="1963.87" r="8.33" fill="#0000cc" stroke="#0000ff" stroke-width="1.67"/>
<circle cx="1814.26" cy="1964.43" r="8.33" fill="#0000cc" stroke="#0000ff" stroke-width="1.67"/>
<rect x="1215.33" y="2020.17" width="16.67" height="16.67" fill="#cc0000" stroke="#ff0000" stroke-width="1.67"/>
<rect x="1333.45" y="2015.91" width="16.67" height="16.67" fill="#cc0000" stroke="#ff0000" stroke-width="1.67"/>
<rect x="1451.57" y="1993.66" width="16.67" height="16.67" fill="#cc0000" stroke="#ff0000" stroke-width="1.67"/>
<rect x="1569.69" y="1998.48" width="16.67" height="16.67" fill="#cc0000" stroke="#ff0000" stroke-width="1.67"/>
<rect x="1687.81" y="1951.42" width="16.67" height="16.67" fill="#cc0000" stroke="#ff0000" stroke-width="1.67"/>
<rect x="1805.93" y="1981.47" width="16.67" height="16.67" fill="#cc0000" stroke="#ff0000" stroke-width="1.67"/>
<circle cx="1223.66" cy="2028.5" r="8.33" fill="#996633" stroke="#734d26" stroke-width="1.67"/><path d="M1217.77 2022.61L1229.55 2034.39M1217.77 2034.39L1229.55 2022.61" stroke="#734d26" stroke-width="1.67"/>
<circle cx="1341.78" cy="2029.92" r="8.33" fill="#996633" stroke="#734d26" stroke-width="1.67"/><path d="M1335.89 2024.03L1347.67 2035.81M1335.89 2035.81L1347.67 2024.03" stroke="#734d26" stroke-width="1.67"/>
<circle cx="1459.9" cy="2027.93" r="8.33" fill="#996633" stroke="#734d26" stroke-width="1.67"/><path d="M1454.01 2022.04L1465.79 2033.83M1454.01 2033.83L1465.79 2022.04" stroke="#734d26" stroke-width="1.67"/>
<circle cx="1578.02" cy="2017.16" r="8.33" fill="#996633" stroke="#734d26" stroke-width="1.67"/><path d="M1572.13 2011.27L1583.91 2023.05M1572.13 2023.05L1583.91 2011.27" stroke="#734d26" stroke-width="1.67"/>
<circle cx="1696.14" cy="1985.41" r="8.33" fill="#996633" stroke="#734d26" stroke-width="1.67"/><path d="M1690.25 1979.52L1702.03 1991.3M1690.25 1991.3L1702.03 1979.52" stroke="#734d26" stroke-width="1.67"/>
<circle cx="1814.26" cy="1996.75" r="8.33" fill="#996633" stroke="#734d26" stroke-width="1.67"/><path d="M1808.37 1990.86L1820.15 2002.64M1808.37 2002.64L1820.15 1990.86" stroke="#734d26" stroke-width="1.67"/>
<path d="M1223.66 2028.5L1223.66 2020.17M1223.66 2028.5L1215.73 2025.92M1223.66 2028.5L1218.76 2035.24M1223.66 2028.5L1228.56 2035.24M1223.66 2028.5L1231.59 2025.92" stroke="#000000" stroke-width="1.67" fill="none"/>
<path d="M1341.78 2032.75L1341.78 2024.42M1341.78 2032.75L1333.85 2030.18M1341.78 2032.75L1336.88 2039.49M1341.78 2032.75L1346.68 2039.49M1341.78 2032.75L1349.71 2030.18" stroke="#000000" stroke-width="1.67" fill="none"/>
<path d="M1459.9 2011.77L1459.9 2003.44M1459.9 2011.77L1451.97 2009.2M1459.9 2011.77L1455 2018.52M1459.9 2011.77L1464.8 2018.52M1459.9 2011.77L1467.83 2009.2" stroke="#000000" stroke-width="1.67" fill="none"/>
<path d="M1578.02 2009.65L1578.02 2001.32M1578.02 2009.65L1570.09 2007.07M1578.02 2009.65L1573.12 2016.39M1578.02 2009.65L1582.92 2016.39M1578.02 2009.65L1585.95 2007.07" stroke="#000000" stroke-width="1.67" fill="none"/>
<path d="M1696.14 2011.49L1696.14 2003.16M1696.14 2011.49L1688.21 2008.92M1696.14 2011.49L1691.24 2018.23M1696.14 2011.49L1701.04 2018.23M1696.14 2011.49L1704.07 2008.92" stroke="#000000" stroke-width="1.67" fill="none"/>
<path d="M1814.26 1998.73L1814.26 1990.4M1814.26 1998.73L1806.33 1996.16M1814.26 1998.73L1809.36 2005.48M1814.26 1998.73L1819.16 2005.48M1814.26 1998.73L1822.19 1996.16" stroke="#000000" stroke-width="1.67" fill="none"/>
<path d="M1223.66 2020.17L1229.91 2028.5L1223.66 2036.83L1217.41 2028.5Z" fill="#0000cc" stroke="#0000ff" stroke-width="1.67"/>
<path d="M1341.78 1988.98L1348.03 1997.32L1341.78 2005.65L1335.53 1997.32Z" fill="#0000cc" stroke="#0000ff" stroke-width="1.67"/>
<path d="M1459.9 1977.08L1466.15 1985.41L1459.9 1993.74L1453.65 1985.41Z" fill="#0000cc" stroke="#0000ff" stroke-width="1.67"/>
<path d="M1578.02 1947.88L1584.27 1956.21L1578.02 1964.55L1571.77 1956.21Z" fill="#0000cc" stroke="#0000ff" stroke-width="1.67"/>
<path d="M1696.14 1939.38L1702.39 1947.71L1696.14 1956.04L1689.89 1947.71Z" fill="#0000cc" stroke="#0000ff" stroke-width="1.67"/>
<path d="M1814.26 1895.44L1820.51 1903.77L1814.26 1912.1L1808.01 1903.77Z" fill="#0000cc" stroke="#0000ff" stroke-width="1.67"/>
<circle cx="1223.66" cy="2028.5" r="8.33" fill="#cc0000" stroke="#ff0000" stroke-width="1.67"/>
<circle cx="1341.78" cy="2025.67" r="8.33" fill="#cc0000" stroke="#ff0000" stroke-width="1.67"/>
<circle cx="1459.9" cy="1916.53" r="8.33" fill="#cc0000" stroke="#ff0000" stroke-width="1.67"/>
<circle cx="1578.02" cy="1916.81" r="8.33" fill="#cc0000" stroke="#ff0000" stroke-width="1.67"/>
<circle cx="1696.14" cy="1915.39" r="8.33" fill="#cc0000" stroke="#ff0000" stroke-width="1.67"/>
<circle cx="1814.26" cy="1915.53" r="8.33" fill="#cc0000" stroke="#ff0000" stroke-width="1.67"/>
<rect x="1215.33" y="2020.17" width="16.67" height="16.67" fill="#996633" stroke="#734d26" stroke-width="1.67"/>
<rect x="1333.45" y="1994.65" width="16.67" height="16.67" fill="#996633" stroke="#734d26" stroke-width="1.67"/>
<rect x="1451.57" y="1977.93" width="16.67" height="16.67" fill="#996633" stroke="#734d26" stroke-width="1.67"/>
<rect x="1569.69" y="1940.79" width="16.67" height="16.67" fill="#996633" stroke="#734d26" stroke-width="1.67"/>
<rect x="1687.81" y="1938.24" width="16.67" height="16.67" fill="#996633" stroke="#734d26" stroke-width="1.67"/>
<rect x="1805.93" y="1920.1" width="16.67" height="16.67" fill="#996633" stroke="#734d26" stroke-width="1.67"/>
<circle cx="1223.66" cy="2028.5" r="8.33" fill="#808080" stroke="#000000" stroke-width="1.67"/><path d="M1217.77 2022.61L1229.55 2034.39M1217.77 2034.39L1229.55 2022.61" stroke="#000000" stroke-width="1.67"/>
<circle cx="1341.78" cy="2014.33" r="8.33" fill="#808080" stroke="#000000" stroke-width="1.67"/><path d="M1335.89 2008.43L1347.67 2020.22M1335.89 2020.22L1347.67 2008.43" stroke="#000000" stroke-width="1.67"/>
<circle cx="1459.9" cy="1903.77" r="8.33" fill="#808080" stroke="#000000" stroke-width="1.67"/><path d="M1454.01 1897.88L1465.79 1909.66M1454.01 1909.66L1465.79 1897.88" stroke="#000000" stroke-width="1.67"/>
<circle cx="1578.02" cy="1871.74" r="8.33" fill="#808080" stroke="#000000" stroke-width="1.67"/><path d="M1572.13 1865.84L1583.91 1877.63M1572.13 1877.63L1583.91 1865.84" stroke="#000000" stroke-width="1.67"/>
<circle cx="1696.14" cy="1776.34" r="8.33" fill="#808080" stroke="#000000" stroke-width="1.67"/><path d="M1690.25 1770.45L1702.03 1782.24M1690.25 1782.24L1702.03 1770.45" stroke="#000000" stroke-width="1.67"/>
<circle cx="1814.26" cy="1774.36" r="8.33" fill="#808080" stroke="#000000" stroke-width="1.67"/><path d="M1808.37 1768.47L1820.15 1780.25M1808.37 1780.25L1820.15 1768.47" stroke="#000000" stroke-width="1.67"/>
<path d="M1223.66 2028.5L1223.66 2020.17M1223.66 2028.5L1215.73 2025.92M1223.66 2028.5L1218.76 2035.24M1223.66 2028.5L1228.56 2035.24M1223.66 2028.5L1231.59 2025.92" stroke="#0000ff" stroke-width="1.67" fill="none"/>
<path d="M1341.78 2036.44L1341.78 2028.1M1341.78 2036.44L1333.85 2033.86M1341.78 2036.44L1336.88 2043.18M1341.78 2036.44L1346.68 2043.18M1341.78 2036.44L1349.71 2033.86" stroke="#0000ff" stroke-width="1.67" fill="none"/>
<path d="M1459.9 1993.07L1459.9 1984.73M1459.9 1993.07L1451.97 1990.49M1459.9 1993.07L1455 1999.81M1459.9 1993.07L1464.8 1999.81M1459.9 1993.07L1467.83 1990.49" stroke="#0000ff" stroke-width="1.67" fill="none"/>
<path d="M1578.02 1757.35L1578.02 1749.02M1578.02 1757.35L1570.09 1754.78M1578.02 1757.35L1573.12 1764.09M1578.02 1757.35L1582.92 1764.09M1578.02 1757.35L1585.95 1754.78" stroke="#0000ff" stroke-width="1.67" fill="none"/>
<path d="M1696.14 1838.14L1696.14 1829.81M1696.14 1838.14L1688.21 1835.57M1696.14 1838.14L1691.24 1844.88M1696.14 1838.14L1701.04 1844.88M1696.14 1838.14L1704.07 1835.57" stroke="#0000ff" stroke-width="1.67" fill="none"/>
<path d="M1814.26 1868.05L1814.26 1859.72M1814.26 1868.05L1806.33 1865.48M1814.26 1868.05L1809.36 1874.79M1814.26 1868.05L1819.16 1874.79M1814.26 1868.05L1822.19 1865.48" stroke="#0000ff" stroke-width="1.67" fill="none"/>
<path d="M1223.66 2020.17L1229.91 2028.5L1223.66 2036.83L1217.41 2028.5Z" fill="#cc0000" stroke="#ff0000" stroke-width="1.67"/>
<path d="M1341.78 1977.64L1348.03 1985.98L1341.78 1994.31L1335.53 1985.98Z" fill="#cc0000" stroke="#ff0000" stroke-width="1.67"/>
<path d="M1459.9 1973.39L1466.15 1981.73L1459.9 1990.06L1453.65 1981.73Z" fill="#cc0000" stroke="#ff0000" stroke-width="1.67"/>
<path d="M1578.02 1974.81L1584.27 1983.14L1578.02 1991.48L1571.77 1983.14Z" fill="#cc0000" stroke="#ff0000" stroke-width="1.67"/>
<path d="M1696.14 1956.1L1702.39 1964.43L1696.14 1972.77L1689.89 1964.43Z" fill="#cc0000" stroke="#ff0000" stroke-width="1.67"/>
<path d="M1814.26 1944.05L1820.51 1952.39L1814.26 1960.72L1808.01 1952.39Z" fill="#cc0000" stroke="#ff0000" stroke-width="1.67"/>
<circle cx="1223.66" cy="2028.5" r="8.33" fill="#0000cc" stroke="#0000ff" stroke-width="1.67"/>
<circle cx="1341.78" cy="2010.07" r="8.33" fill="#0000cc" stroke="#0000ff" stroke-width="1.67"/>
<circle cx="1459.9" cy="1952.53" r="8.33" fill="#0000cc" stroke="#0000ff" stroke-width="1.67"/>
<circle cx="1578.02" cy="1921.91" r="8.33" fill="#0000cc" stroke="#0000ff" stroke-width="1.67"/>
<circle cx="1696.14" cy="1970.67" r="8.33" fill="#0000cc" stroke="#0000ff" stroke-width="1.67"/>
<circle cx="1814.26" cy="1893.85" r="8.33" fill="#0000cc" stroke="#0000ff" stroke-width="1.67"/>
<rect x="1215.33" y="2020.17" width="16.67" height="16.67" fill="#cc0000" stroke="#ff0000" stroke-width="1.67"/>
<rect x="1333.45" y="1992.1" width="16.67" height="16.67" fill="#cc0000" stroke="#ff0000" stroke-width="1.67"/>
<rect x="1451.57" y="1936.54" width="16.67" height="16.67" fill="#cc0000" stroke="#ff0000" stroke-width="1.67"/>
<rect x="1569.69" y="1961.91" width="16.67" height="16.67" fill="#cc0000" stroke="#ff0000" stroke-width="1.67"/>
<rect x="1687.81" y="2010.95" width="16.67" height="16.67" fill="#cc0000" stroke="#ff0000" stroke-width="1.67"/>
<rect x="1805.93" y="1950.15" width="16.67" height="16.67" fill="#cc0000" stroke="#ff0000" stroke-width="1.67"/>
<circle cx="1223.66" cy="2028.5" r="8.33" fill="#996633" stroke="#734d26" stroke-width="1.67"/><path d="M1217.77 2022.61L1229.55 2034.39M1217.77 2034.39L1229.55 2022.61" stroke="#734d26" stroke-width="1.67"/>
<circle cx="1341.78" cy="2029.92" r="8.33" fill="#996633" stroke="#734d26" stroke-width="1.67"/><path d="M1335.89 2024.03L1347.67 2035.81M1335.89 2035.81L1347.67 2024.03" stroke="#734d26" stroke-width="1.67"/>
<circle cx="1459.9" cy="2027.93" r="8.33" fill="#996633" stroke="#734d26" stroke-width="1.67"/><path d="M1454.01 2022.04L1465.79 2033.83M1454.01 2033.83L1465.79 2022.04" stroke="#734d26" stroke-width="1.67"/>
<circle cx="1578.02" cy="2027.37" r="8.33" fill="#996633" stroke="#734d26" stroke-width="1.67"/><path d="M1572.13 2021.47L1583.91 2033.26M1572.13 2033.26L1583.91 2021.47" stroke="#734d26" stroke-width="1.67"/>
<circle cx="1696.14" cy="1895.83" r="8.33" fill="#996633" stroke="#734d26" stroke-width="1.67"/><path d="M1690.25 1889.94L1702.03 1901.72M1690.25 1901.72L1702.03 1889.94" stroke="#734d26" stroke-width="1.67"/>
<circle cx="1814.26" cy="1894.84" r="8.33" fill="#996633" stroke="#734d26" stroke-width="1.67"/><path d="M1808.37 1888.95L1820.15 1900.73M1808.37 1900.73L1820.15 1888.95" stroke="#734d26" stroke-width="1.67"/>
<path d="M1223.66 2028.5L1223.66 2020.17M1223.66 2028.5L1215.73 2025.92M1223.66 2028.5L1218.76 2035.24M1223.66 2028.5L1228.56 2035.24M1223.66 2028.5L1231.59 2025.92" stroke="#000000" stroke-width="1.67" fill="none"/>
<path d="M1341.78 2022.83L1341.78 2014.5M1341.78 2022.83L1333.85 2020.26M1341.78 2022.83L1336.88 2029.57M1341.78 2022.83L1346.68 2029.57M1341.78 2022.83L1349.71 2020.26" stroke="#000000" stroke-width="1.67" fill="none"/>
<path d="M1459.9 2011.49L1459.9 2003.16M1459.9 2011.49L1451.97 2008.92M1459.9 2011.49L1455 2018.23M1459.9 2011.49L1464.8 2018.23M1459.9 2011.49L1467.83 2008.92" stroke="#000000" stroke-width="1.67" fill="none"/>
<path d="M1578.02 1984.56L1578.02 1976.23M1578.02 1984.56L1570.09 1981.99M1578.02 1984.56L1573.12 1991.3M1578.02 1984.56L1582.92 1991.3M1578.02 1984.56L1585.95 1981.99" stroke="#000000" stroke-width="1.67" fill="none"/>
<path d="M1696.14 1971.8L1696.14 1963.47M1696.14 1971.8L1688.21 1969.23M1696.14 1971.8L1691.24 1978.55M1696.14 1971.8L1701.04 1978.55M1696.14 1971.8L1704.07 1969.23" stroke="#000000" stroke-width="1.67" fill="none"/>
<path d="M1814.26 1968.12L1814.26 1959.79M1814.26 1968.12L1806.33 1965.54M1814.26 1968.12L1809.36 1974.86M1814.26 1968.12L1819.16 1974.86M1814.26 1968.12L1822.19 1965.54" stroke="#000000" stroke-width="1.67" fill="none"/>
<path d="M1223.66 2020.17L1229.91 2028.5L1223.66 2036.83L1217.41 2028.5Z" fill="#0000cc" stroke="#0000ff" stroke-width="1.67"/>
<path d="M1341.78 1893.03L1348.03 1901.36L1341.78 1909.69L1335.53 1901.36Z" fill="#0000cc" stroke="#0000ff" stroke-width="1.67"/>
<path d="M1459.9 1895.72L1466.15 1904.05L1459.9 1912.39L1453.65 1904.05Z" fill="#0000cc" stroke="#0000ff" stroke-width="1.67"/>
<path d="M1578.02 1760.5L1584.27 1768.83L1578.02 1777.17L1571.77 1768.83Z" fill="#0000cc" stroke="#0000ff" stroke-width="1.67"/>
<path d="M1696.14 1614.65L1702.39 1622.98L1696.14 1631.31L1689.89 1622.98Z" fill="#0000cc" stroke="#0000ff" stroke-width="1.67"/>
<path d="M1814.26 1607.14L1820.51 1615.47L1814.26 1623.8L1808.01 1615.47Z" fill="#0000cc" stroke="#0000ff" stroke-width="1.67"/>
<circle cx="1223.66" cy="2028.5" r="8.33" fill="#cc0000" stroke="#ff0000" stroke-width="1.67"/>
<circle cx="1341.78" cy="2028.64" r="8.33" fill="#cc0000" stroke="#ff0000" stroke-width="1.67"/>
<circle cx="1459.9" cy="1918.65" r="8.33" fill="#cc0000" stroke="#ff0000" stroke-width="1.67"/>
<circle cx="1578.02" cy="1944.16" r="8.33" fill="#cc0000" stroke="#ff0000" stroke-width="1.67"/>
<circle cx="1696.14" cy="1941.05" r="8.33" fill="#cc0000" stroke="#ff0000" stroke-width="1.67"/>
<circle cx="1814.26" cy="1934.24" r="8.33" fill="#cc0000" stroke="#ff0000" stroke-width="1.67"/>
<rect x="1215.33" y="2020.17" width="16.67" height="16.67" fill="#996633" stroke="#734d26" stroke-width="1.67"/>
<rect x="1333.45" y="1974.38" width="16.67" height="16.67" fill="#996633" stroke="#734d26" stroke-width="1.67"/>
<rect x="1451.57" y="1911.59" width="16.67" height="16.67" fill="#996633" stroke="#734d26" stroke-width="1.67"/>
<rect x="1569.69" y="1882.4" width="16.67" height="16.67" fill="#996633" stroke="#734d26" stroke-width="1.67"/>
<rect x="1687.81" y="1713.02" width="16.67" height="16.67" fill="#996633" stroke="#734d26" stroke-width="1.67"/>
<rect x="1805.93" y="1683.11" width="16.67" height="16.67" fill="#996633" stroke="#734d26" stroke-width="1.67"/>
<circle cx="1223.66" cy="2028.5" r="8.33" fill="#808080" stroke="#000000" stroke-width="1.67"/><path d="M1217.77 2022.61L1229.55 2034.39M1217.77 2034.39L1229.55 2022.61" stroke="#000000" stroke-width="1.67"/>
<circle cx="1341.78" cy="2020.85" r="8.33" fill="#808080" stroke="#000000" stroke-width="1.67"/><path d="M1335.89 2014.95L1347.67 2026.74M1335.89 2026.74L1347.67 2014.95" stroke="#000000" stroke-width="1.67"/>
<circle cx="1459.9" cy="2011.77" r="8.33" fill="#808080" stroke="#000000" stroke-width="1.67"/><path d="M1454.01 2005.88L1465.79 2017.67M1454.01 2017.67L1465.79 2005.88" stroke="#000000" stroke-width="1.67"/>
<circle cx="1578.02" cy="2012.63" r="8.33" fill="#808080" stroke="#000000" stroke-width="1.67"/><path d="M1572.13 2006.73L1583.91 2018.52M1572.13 2018.52L1583.91 2006.73" stroke="#000000" stroke-width="1.67"/>
<circle cx="1696.14" cy="2012.34" r="8.33" fill="#808080" stroke="#000000" stroke-width="1.67"/><path d="M1690.25 2006.45L1702.03 2018.23M1690.25 2018.23L1702.03 2006.45" stroke="#000000" stroke-width="1.67"/>
<circle cx="1814.26" cy="2002.7" r="8.33" fill="#808080" stroke="#000000" stroke-width="1.67"/><path d="M1808.37 1996.81L1820.15 2008.6M1808.37 2008.6L1820.15 1996.81" stroke="#000000" stroke-width="1.67"/>
<path d="M1223.66 2028.5L1223.66 2020.17M1223.66 2028.5L1215.73 2025.92M1223.66 2028.5L1218.76 2035.24M1223.66 2028.5L1228.56 2035.24M1223.66 2028.5L1231.59 2025.92" stroke="#0000ff" stroke-width="1.67" fill="none"/>
<path d="M1341.78 1908.87L1341.78 1900.54M1341.78 1908.87L1333.85 1906.3M1341.78 1908.87L1336.88 1915.61M1341.78 1908.87L1346.68 1915.61M1341.78 1908.87L1349.71 1906.3" stroke="#0000ff" stroke-width="1.67" fill="none"/>
<path d="M1459.9 1909.15L1459.9 1900.82M1459.9 1909.15L1451.97 1906.58M1459.9 1909.15L1455 1915.9M1459.9 1909.15L1464.8 1915.9M1459.9 1909.15L1467.83 1906.58" stroke="#0000ff" stroke-width="1.67" fill="none"/>
<path d="M1578.02 1907.45L1578.02 1899.12M1578.02 1907.45L1570.09 1904.88M1578.02 1907.45L1573.12 1914.2M1578.02 1907.45L1582.92 1914.2M1578.02 1907.45L1585.95 1904.88" stroke="#0000ff" stroke-width="1.67" fill="none"/>
<path d="M1696.14 1906.6L1696.14 1898.27M1696.14 1906.6L1688.21 1904.03M1696.14 1906.6L1691.24 1913.35M1696.14 1906.6L1701.04 1913.35M1696.14 1906.6L1704.07 1904.03" stroke="#0000ff" stroke-width="1.67" fill="none"/>
<path d="M1814.26 1903.34L1814.26 1895.01M1814.26 1903.34L1806.33 1900.77M1814.26 1903.34L1809.36 1910.09M1814.26 1903.34L1819.16 1910.09M1814.26 1903.34L1822.19 1900.77" stroke="#0000ff" stroke-width="1.67" fill="none"/>
<path d="M1223.66 2020.17L1229.91 2028.5L1223.66 2036.83L1217.41 2028.5Z" fill="#cc0000" stroke="#ff0000" stroke-width="1.67"/>
<path d="M1341.78 1970.42L1348.03 1978.75L1341.78 1987.08L1335.53 1978.75Z" fill="#cc0000" stroke="#ff0000" stroke-width="1.67"/>
<path d="M1459.9 1970.27L1466.15 1978.61L1459.9 1986.94L1453.65 1978.61Z" fill="#cc0000" stroke="#ff0000" stroke-width="1.67"/>
<path d="M1578.02 1941.08L1584.27 1949.41L1578.02 1957.74L1571.77 1949.41Z" fill="#cc0000" stroke="#ff0000" stroke-width="1.67"/>
<path d="M1696.14 1843.98L1702.39 1852.32L1696.14 1860.65L1689.89 1852.32Z" fill="#cc0000" stroke="#ff0000" stroke-width="1.67"/>
<path d="M1814.26 1844.83L1820.51 1853.17L1814.26 1861.5L1808.01 1853.17Z" fill="#cc0000" stroke="#ff0000" stroke-width="1.67"/>
</g>
<rect x="1164.6" y="823.71" width="708.72" height="1275.66" fill="none" stroke="#000" stroke-width="1.85"/>
<text transform="translate(1149.4 2042.4) scale(1 1.04)" text-anchor="end" font-family="'Liberation Serif', 'Times New Roman', serif" font-size="42">1</text>
<text transform="translate(1149.4 1900.66) scale(1 1.04)" text-anchor="end" font-family="'Liberation Serif', 'Times New Roman', serif" font-size="42">1.1</text>
<text transform="translate(1149.4 1758.92) scale(1 1.04)" text-anchor="end" font-family="'Liberation Serif', 'Times New Roman', serif" font-size="42">1.2</text>
<text transform="translate(1149.4 1617.18) scale(1 1.04)" text-anchor="end" font-family="'Liberation Serif', 'Times New Roman', serif" font-size="42">1.3</text>
<text transform="translate(1149.4 1475.44) scale(1 1.04)" text-anchor="end" font-family="'Liberation Serif', 'Times New Roman', serif" font-size="42">1.4</text>
<text transform="translate(1149.4 1333.7) scale(1 1.04)" text-anchor="end" font-family="'Liberation Serif', 'Times New Roman', serif" font-size="42">1.5</text>
<text transform="translate(1149.4 1191.96) scale(1 1.04)" text-anchor="end" font-family="'Liberation Serif', 'Times New Roman', serif" font-size="42">1.6</text>
<text transform="translate(1149.4 1050.22) scale(1 1.04)" text-anchor="end" font-family="'Liberation Serif', 'Times New Roman', serif" font-size="42">1.7</text>
<text transform="translate(1149.4 908.48) scale(1 1.04)" text-anchor="end" font-family="'Liberation Serif', 'Times New Roman', serif" font-size="42">1.8</text>
<text x="1208.06" y="2135.77" font-family="'Liberation Serif', 'Times New Roman', serif" font-size="33.4" font-style="italic">P</text>
<text x="1224.86" y="2140.87" font-family="'Liberation Serif', 'Times New Roman', serif" font-size="25">0</text>
<text x="1326.18" y="2135.77" font-family="'Liberation Serif', 'Times New Roman', serif" font-size="33.4" font-style="italic">P</text>
<text x="1342.98" y="2140.87" font-family="'Liberation Serif', 'Times New Roman', serif" font-size="25">1</text>
<text x="1444.3" y="2135.77" font-family="'Liberation Serif', 'Times New Roman', serif" font-size="33.4" font-style="italic">P</text>
<text x="1461.1" y="2140.87" font-family="'Liberation Serif', 'Times New Roman', serif" font-size="25">2</text>
<text x="1562.42" y="2135.77" font-family="'Liberation Serif', 'Times New Roman', serif" font-size="33.4" font-style="italic">P</text>
<text x="1579.22" y="2140.87" font-family="'Liberation Serif', 'Times New Roman', serif" font-size="25">3</text>
<text x="1680.54" y="2135.77" font-family="'Liberation Serif', 'Times New Roman', serif" font-size="33.4" font-style="italic">P</text>
<text x="1697.34" y="2140.87" font-family="'Liberation Serif', 'Times New Roman', serif" font-size="25">4</text>
<text x="1798.66" y="2135.77" font-family="'Liberation Serif', 'Times New Roman', serif" font-size="33.4" font-style="italic">P</text>
<text x="1815.46" y="2140.87" font-family="'Liberation Serif', 'Times New Roman', serif" font-size="25">5</text>
<text transform="translate(1061.3 1461.54) rotate(-90)" text-anchor="middle" font-family="'Liberation Serif', 'Times New Roman', serif" font-size="33.3">Area Change Ratio</text>
<text x="268.9" y="751.4" font-family="'Liberation Sans', Arial, sans-serif" font-weight="bold" font-size="37.6">(a)</text>
<text x="325.3" y="751.4" font-family="'Liberation Serif', 'Times New Roman', serif" font-size="37.3">MDA-MB-231</text>
<text x="1363.6" y="751.6" font-family="'Liberation Sans', Arial, sans-serif" font-weight="bold" font-size="37.6">(b)</text>
<text x="1422.2" y="751.6" font-family="'Liberation Serif', 'Times New Roman', serif" font-size="37.3">MCF-7</text>
<text x="269.5" y="2212.4" font-family="'Liberation Sans', Arial, sans-serif" font-weight="bold" font-size="37.6">(c)</text>
<text x="325.3" y="2212.4" font-family="'Liberation Serif', 'Times New Roman', serif" font-size="37.3">MDA-MB-231</text>
<text x="1363.6" y="2212.7" font-family="'Liberation Sans', Arial, sans-serif" font-weight="bold" font-size="37.6">(d)</text>
<text x="1422.2" y="2212.7" font-family="'Liberation Serif', 'Times New Roman', serif" font-size="37.3">MCF-7</text>
</svg>
</body></html>
